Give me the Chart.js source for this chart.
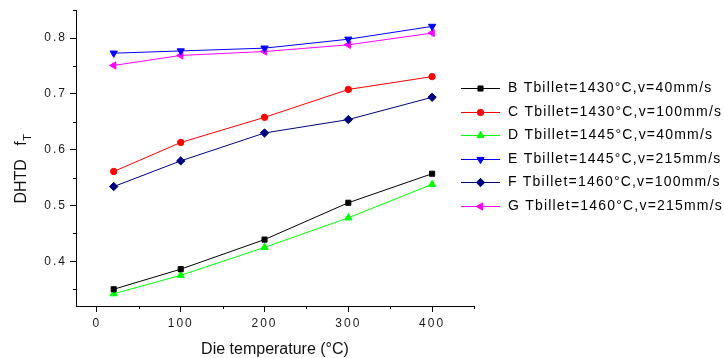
<!DOCTYPE html>
<html>
<head>
<meta charset="utf-8">
<title>DHTD vs die temperature</title>
<script src="https://cdn.jsdelivr.net/npm/chart.js@4/dist/chart.umd.min.js"></script>
<style>
  html, body { margin: 0; padding: 0; background: #fff; }
  canvas { display: block; }
</style>
</head>
<body>
<canvas id="dhtdChart" width="724" height="358"></canvas>
<script>
const dieTemps = [20, 100, 200, 300, 400];

const seriesB = [0.350, 0.386, 0.439, 0.505, 0.557];
const seriesC = [0.561, 0.613, 0.658, 0.708, 0.731];
const seriesD = [0.342, 0.375, 0.425, 0.478, 0.538];
const seriesE = [0.773, 0.777, 0.782, 0.798, 0.821];
const seriesF = [0.534, 0.580, 0.630, 0.654, 0.694];
const seriesG = [0.751, 0.769, 0.776, 0.788, 0.809];

const seriesLabels = [
    'B Tbillet=1430°C,v=40mm/s',
    'C Tbillet=1430°C,v=100mm/s',
    'D Tbillet=1445°C,v=40mm/s',
    'E Tbillet=1445°C,v=215mm/s',
    'F Tbillet=1460°C,v=100mm/s',
    'G Tbillet=1460°C,v=215mm/s'
];

const xTitle = 'Die temperature (°C)';
const yTitle = 'DHTD   f';
const yTitleSub = 'T';

const FONT = "'Liberation Sans', Arial, sans-serif";

function toPoints(values) {
    return dieTemps.map((t, i) => ({ x: t, y: values[i] }));
}

function makeDataset(label, values, color, pointStyle, radius, rotation) {
    return {
        label: label,
        data: toPoints(values),
        borderColor: color,
        backgroundColor: color,
        borderWidth: 1,
        pointStyle: pointStyle,
        pointRadius: radius,
        pointRotation: rotation || 0,
        pointBorderWidth: 1,
        pointBorderColor: color,
        pointBackgroundColor: color,
        tension: 0
    };
}

const datasets = [
    makeDataset(seriesLabels[0], seriesB, '#000000', 'rect', 3.6),
    makeDataset(seriesLabels[1], seriesC, '#ff0000', 'circle', 3.2),
    makeDataset(seriesLabels[2], seriesD, '#00ff00', 'triangle', 4.2),
    makeDataset(seriesLabels[3], seriesE, '#0000ff', 'triangle', 4.2, 180),
    makeDataset(seriesLabels[4], seriesF, '#000080', 'rectRot', 4.2),
    makeDataset(seriesLabels[5], seriesG, '#ff00ff', 'triangle', 4.2, 270)
];

// minor ticks halfway between the labelled ones
function drawMinorTicks(ctx, scale, len) {
    const ticks = scale.ticks.map(t => t.value);
    if (ticks.length < 2) return;
    const step = ticks[1] - ticks[0];
    const mids = [];
    for (let v = ticks[0] - step / 2; v <= scale.max + 1e-9; v += step) {
        if (v >= scale.min - 1e-9) mids.push(v);
    }
    ctx.beginPath();
    mids.forEach(v => {
        const p = Math.round(scale.getPixelForValue(v)) + 0.5;
        if (scale.isHorizontal()) {
            ctx.moveTo(p, scale.top);
            ctx.lineTo(p, scale.top + len);
        } else {
            ctx.moveTo(scale.right, p);
            ctx.lineTo(scale.right - len, p);
        }
    });
    ctx.stroke();
}

const decorPlugin = {
    id: 'decor',
    beforeDraw(chart) {
        // tick labels are drawn a little spaced out
        chart.ctx.letterSpacing = '2px';
    },
    beforeDatasetsDraw(chart) {
        const ctx = chart.ctx;
        ctx.letterSpacing = '0px';
        ctx.save();
        ctx.strokeStyle = '#000';
        ctx.lineWidth = 1;
        drawMinorTicks(ctx, chart.scales.x, 3);
        drawMinorTicks(ctx, chart.scales.y, 3);
        ctx.restore();
    },
    afterDraw(chart) {
        const ctx = chart.ctx;
        const area = chart.chartArea;

        // x axis title
        ctx.save();
        ctx.letterSpacing = '0px';
        ctx.fillStyle = '#111';
        ctx.font = '16px ' + FONT;
        ctx.textAlign = 'center';
        ctx.textBaseline = 'alphabetic';
        ctx.fillText(xTitle, (area.left + area.right) / 2, area.bottom + 47.5);
        ctx.restore();

        // y axis title with subscript T
        ctx.save();
        ctx.letterSpacing = '0px';
        ctx.fillStyle = '#111';
        ctx.translate(25.5, (area.top + area.bottom) / 2 + 11);
        ctx.rotate(-Math.PI / 2);
        ctx.textBaseline = 'alphabetic';
        ctx.textAlign = 'left';
        ctx.font = '11px ' + FONT;
        const subW = ctx.measureText(yTitleSub).width;
        ctx.font = '16px ' + FONT;
        const mainW = ctx.measureText(yTitle).width;
        const x0 = -(mainW + subW) / 2;
        ctx.fillText(yTitle, x0, 0);
        ctx.font = '11px ' + FONT;
        ctx.fillText(yTitleSub, x0 + mainW + 0.5, 5);
        ctx.restore();

        // legend: line sample with marker, then label
        const lg = chart.options.plugins.decor;
        ctx.save();
        ctx.font = '14px ' + FONT;
        ctx.letterSpacing = '1.2px';
        ctx.textBaseline = 'middle';
        ctx.textAlign = 'left';
        chart.data.datasets.forEach((ds, i) => {
            const y = Math.round(lg.top + i * lg.rowHeight) + 0.5;
            ctx.strokeStyle = ds.borderColor;
            ctx.lineWidth = 1;
            ctx.beginPath();
            ctx.moveTo(lg.left, y);
            ctx.lineTo(lg.left + lg.lineWidth, y);
            ctx.stroke();
            ctx.fillStyle = ds.pointBackgroundColor;
            Chart.helpers.drawPoint(ctx, {
                pointStyle: ds.pointStyle,
                radius: ds.pointRadius,
                rotation: ds.pointRotation,
                borderWidth: 1
            }, lg.left + lg.lineWidth / 2, y);
            ctx.fillStyle = '#000';
            ctx.fillText(ds.label, lg.left + lg.lineWidth + 8, y);
        });
        ctx.restore();
    }
};

new Chart(document.getElementById('dhtdChart'), {
    type: 'line',
    data: { datasets: datasets },
    plugins: [decorPlugin],
    options: {
        responsive: false,
        animation: false,
        layout: { padding: { left: 0, right: 250, top: 9, bottom: 0 } },
        plugins: {
            legend: { display: false },
            tooltip: { enabled: false },
            decor: { left: 461, top: 88, rowHeight: 23.5, lineWidth: 39 }
        },
        scales: {
            x: {
                type: 'linear',
                min: -25,
                max: 450,
                afterFit(scale) { scale.height = 52; },
                border: { display: true, color: '#000', width: 1 },
                grid: { drawOnChartArea: false, drawTicks: true, tickLength: 6, tickColor: '#000' },
                ticks: {
                    stepSize: 100,
                    includeBounds: false,
                    maxRotation: 0,
                    padding: 4,
                    color: '#1a1a1a',
                    font: { family: FONT, size: 12 }
                }
            },
            y: {
                min: 0.32,
                max: 0.85,
                afterFit(scale) { scale.width = 76; },
                border: { display: true, color: '#000', width: 1 },
                grid: { drawOnChartArea: false, drawTicks: true, tickLength: 6, tickColor: '#000' },
                ticks: {
                    stepSize: 0.1,
                    includeBounds: false,
                    padding: 3,
                    color: '#1a1a1a',
                    font: { family: FONT, size: 12 },
                    callback: v => v.toFixed(1)
                }
            }
        }
    }
});
</script>
</body>
</html>
